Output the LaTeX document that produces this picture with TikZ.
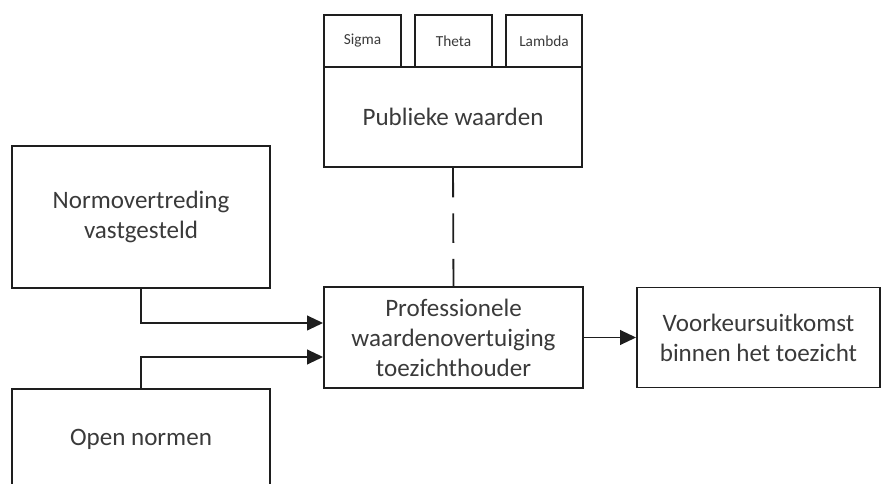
\documentclass[tikz,border=0pt]{standalone}
\usepackage{fontspec}
\setmainfont{Carlito}
\usetikzlibrary{arrows.meta,calc}
\definecolor{textgray}{HTML}{3A3A3A}
\definecolor{linegray}{HTML}{1E1E1E}

\begin{document}
\begin{tikzpicture}[x=0.75pt,y=-0.75pt,
        box/.style={draw=linegray, line width=1.4pt, align=center, text=textgray,
            inner sep=0pt, font=\fontsize{18.8}{22.5}\selectfont},
        tab/.style={box, minimum width=57.75pt, minimum height=39pt,
            font=\fontsize{11.5}{14}\selectfont},
        flow/.style={draw=linegray, line width=1.4pt, -{Triangle[length=12pt,width=11pt]}},
        link/.style={draw=linegray, line width=1.4pt, dash pattern=on 22.1pt off 12pt}]
        \path[use as bounding box, clip] (0,0) rectangle (882,484);

        % Public values with its three tabs
        \node[box, minimum width=193.5pt, minimum height=75pt] (publiek) at (453,117) {Publieke waarden};
        \node[tab] (sigma) at (362.5,41) {Sigma};
        \node[tab] (theta) at (453.5,41) {Theta};
        \node[tab, minimum width=57pt] (lambda) at (544,41) {Lambda};

        % Inputs on the left
        \node[box, minimum width=193.5pt, minimum height=106.5pt] (norm) at (141,217) {Normovertreding\\vastgesteld};
        \node[box, minimum width=193.5pt, minimum height=75.75pt] (open) at (141,439.5) {Open normen};

        % Centre and outcome
        \node[box, minimum width=194.25pt, minimum height=75.75pt] (prof) at (453.5,337.5) {Professionele\\waardenovertuiging\\toezichthouder};
        \node[box, minimum width=182.25pt, minimum height=75pt] (voork) at (758.5,337.5) {Voorkeursuitkomst\\binnen het toezicht};

        % Connectors
        \draw[flow] (norm.south) |- ($(prof.west)+(0,-14.5)$);
        \draw[flow] (open.north) |- ($(prof.west)+(0,19.5)$);
        \draw[flow] (prof.east) -- (voork.west);
        \draw[link] (publiek.south) -- (prof.north);
\end{tikzpicture}
\end{document}
